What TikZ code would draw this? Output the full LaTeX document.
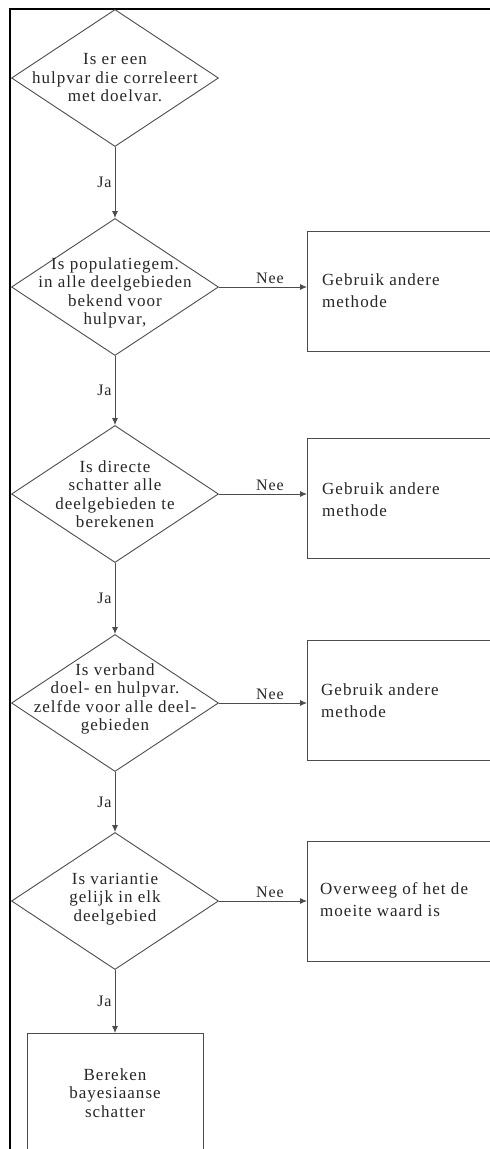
\documentclass[tikz,border=0pt]{standalone}
\usepackage{fontspec}
\setmainfont{Liberation Serif}[LetterSpace=6]
\usetikzlibrary{shapes.geometric,arrows.meta}

\begin{document}
\begin{tikzpicture}[x=1pt,y=-1pt,
  line/.style={draw=black!70, line width=0.9pt},
  decision/.style={diamond, line, minimum width=207pt, minimum height=137pt, inner sep=0pt},
  qtext/.style={align=center, text=black!85, font=\fontsize{17}{18.5}\selectfont, inner sep=0pt},
  option/.style={rectangle, line, minimum width=215pt, minimum height=120pt, anchor=west},
  otext/.style={align=left, text=black!85, font=\fontsize{17}{22}\selectfont, inner sep=0pt, anchor=west},
  flow/.style={line, -{Latex[length=7pt,width=6pt]}},
  lbl/.style={text=black!85, font=\fontsize{16}{18}\selectfont, inner sep=3pt}
]
\useasboundingbox (0,0) rectangle (490,1149);
\clip (0,0) rectangle (490,1149);

% page frame
\draw[line width=2pt] (10,1152) -- (10,8.5) -- (492,8.5);

% decisions
\node[decision] (d1) at (115,78)  {};
\node[decision] (d2) at (115,287) {};
\node[decision] (d3) at (115,494) {};
\node[decision] (d4) at (115,703) {};
\node[decision] (d5) at (115,901) {};

\node[qtext] (q1) at (115,78)  {Is er een\\hulpvar die correleert\\met doelvar.};
\node[qtext] (q2) at (115,293) {Is populatiegem.\\in alle deelgebieden\\bekend voor\\hulpvar,};
\node[qtext] (q3) at (115,494) {Is directe\\schatter alle\\deelgebieden te\\berekenen};
\node[qtext] (q4) at (115,699) {Is verband\\doel- en hulpvar.\\zelfde voor alle deel-\\gebieden};
\node[qtext] (q5) at (115,899) {Is variantie\\gelijk in elk\\deelgebied};

% alternatives on the right
\node[option] (b2) at (307,291) {};
\node[option] (b3) at (307,498) {};
\node[option] (b4) at (307,700) {};
\node[option] (b5) at (307,901) {};

\node[otext] (t2) at (322,291) {Gebruik andere\\methode};
\node[otext] (t3) at (322,500) {Gebruik andere\\methode};
\node[otext] (t4) at (321,701) {Gebruik andere\\methode};
\node[otext] (t5) at (320,900) {Overweeg of het de\\moeite waard is};

% final step
\node[rectangle, line, minimum width=176pt, minimum height=160pt, anchor=north] (f) at (115,1033) {};
\node[qtext] (ft) at (115,1093) {Bereken\\bayesiaanse\\schatter};

% yes branches
\draw[flow] (d1.south) -- node[lbl, left, pos=0.5] {Ja} (d2.north);
\draw[flow] (d2.south) -- node[lbl, left, pos=0.5] {Ja} (d3.north);
\draw[flow] (d3.south) -- node[lbl, left, pos=0.5] {Ja} (d4.north);
\draw[flow] (d4.south) -- node[lbl, left, pos=0.5] {Ja} (d5.north);
\draw[flow] (d5.south) -- node[lbl, left, pos=0.5] {Ja} (f.north);

% no branches
\draw[flow] (d2.east) -- node[lbl, above, pos=0.58] {Nee} (d2.east -| b2.west);
\draw[flow] (d3.east) -- node[lbl, above, pos=0.58] {Nee} (d3.east -| b3.west);
\draw[flow] (d4.east) -- node[lbl, above, pos=0.58] {Nee} (d4.east -| b4.west);
\draw[flow] (d5.east) -- node[lbl, above, pos=0.58] {Nee} (d5.east -| b5.west);
\end{tikzpicture}
\end{document}
